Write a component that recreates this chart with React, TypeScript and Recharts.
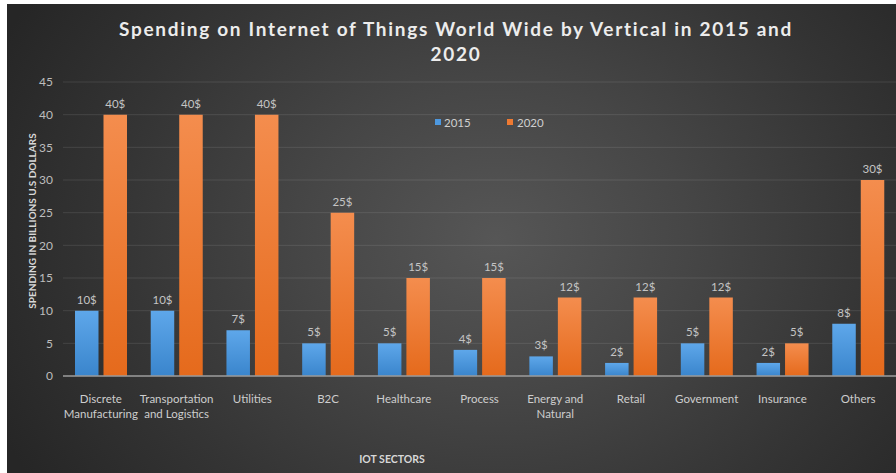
import React from "react";
import { BarChart, Bar, XAxis, YAxis, CartesianGrid, LabelList } from "recharts";

const categories = [
  "Discrete\nManufacturing",
  "Transportation\nand Logistics",
  "Utilities",
  "B2C",
  "Healthcare",
  "Process",
  "Energy and\nNatural",
  "Retail",
  "Government",
  "Insurance",
  "Others",
];
const values2015 = [10, 10, 7, 5, 5, 4, 3, 2, 5, 2, 8];
const values2020 = [40, 40, 40, 25, 15, 15, 12, 12, 12, 5, 30];
const yTicks = [0, 5, 10, 15, 20, 25, 30, 35, 40, 45];

const data = categories.map((c, i) => ({ name: c, y2015: values2015[i], y2020: values2020[i] }));

const FONT = "Lato, 'Open Sans', sans-serif";

const CatTick = (props: any) => {
  const { x, y, payload } = props;
  const lines = String(payload.value).split("\n");
  return (
    <g transform={`translate(${x},${y})`}>
      {lines.map((l: string, i: number) => (
        <text key={i} x={0} y={19 + i * 15} textAnchor="middle" fill="#cdcdcd" fontSize={11.5} fontFamily={FONT}>
          {l}
        </text>
      ))}
    </g>
  );
};

export default function App() {
  return (
    <>
      <style>{`html,body{margin:0;padding:0;overflow:hidden;background:#fff}`}</style>
      <div style={{ position: "fixed", left: 0, top: 0, width: 896, height: 473, background: "#fff", overflow: "hidden" }}>
        <div
          style={{
            position: "absolute",
            left: 7,
            top: 4,
            width: 889,
            height: 469,
            overflow: "hidden",
            background: "radial-gradient(ellipse 62% 95% at 55% 50%, #565656 0%, #464646 35%, #343434 70%, #262626 100%)",
          }}
        >
          <BarChart width={889} height={469} data={data} margin={{ top: 78, right: 0, left: 0, bottom: 0 }} barSize={23.5} barGap={5}>
            <defs>
              <linearGradient id="gBlue" x1="0" y1="0" x2="0" y2="1">
                <stop offset="0%" stopColor="#5ea7ea" />
                <stop offset="100%" stopColor="#3a85cc" />
              </linearGradient>
              <linearGradient id="gOrange" x1="0" y1="0" x2="0" y2="1">
                <stop offset="0%" stopColor="#f48d4e" />
                <stop offset="100%" stopColor="#e56a1c" />
              </linearGradient>
            </defs>
            <CartesianGrid vertical={false} stroke="rgba(255,255,255,0.1)" strokeWidth={1} />
            <XAxis
              dataKey="name"
              height={97}
              tickLine={false}
              axisLine={{ stroke: "#9a9a9a", strokeWidth: 1.5 }}
              tick={<CatTick />}
              interval={0}
            />
            <YAxis
              width={56}
              domain={[0, 45]}
              ticks={yTicks}
              tickLine={false}
              axisLine={false}
              tickSize={0}
              tickMargin={10}
              tick={{ fill: "#bdbdbd", fontSize: 12, fontFamily: FONT }}
            />
            <Bar dataKey="y2015" fill="url(#gBlue)" isAnimationActive={false}>
              <LabelList dataKey="y2015" position="top" offset={7} formatter={(v: any) => `${v}$`} fill="#c4c4c4" fontSize={11.5} fontFamily={FONT} />
            </Bar>
            <Bar dataKey="y2020" fill="url(#gOrange)" isAnimationActive={false}>
              <LabelList dataKey="y2020" position="top" offset={7} formatter={(v: any) => `${v}$`} fill="#c4c4c4" fontSize={11.5} fontFamily={FONT} />
            </Bar>
            <text x={449} y={32} textAnchor="middle" fill="#ececec" fontSize={19} fontWeight={700} letterSpacing={1.7} fontFamily={FONT}>
              Spending on Internet of Things World Wide by Vertical in 2015 and
            </text>
            <text x={449} y={57} textAnchor="middle" fill="#ececec" fontSize={19} fontWeight={700} letterSpacing={1.7} fontFamily={FONT}>
              2020
            </text>
            <text
              x={24.7}
              y={217}
              transform="rotate(-90, 24.7, 217)"
              textAnchor="middle"
              dominantBaseline="central"
              fill="#d8d8d8"
              fontSize={10}
              fontWeight={700}
              fontFamily={FONT}
            >
              SPENDING IN BILLIONS U.S DOLLARS
            </text>
            <text x={385} y={455} textAnchor="middle" dominantBaseline="central" fill="#d8d8d8" fontSize={10.5} fontWeight={700} fontFamily={FONT}>
              IOT SECTORS
            </text>
            <rect x={428} y={115} width={6} height={6} fill="#4d98df" />
            <text x={437} y={118} dominantBaseline="central" fill="#cfcfcf" fontSize={11.5} fontFamily={FONT}>
              2015
            </text>
            <rect x={500} y={115} width={6} height={6} fill="#ef7a32" />
            <text x={510} y={118} dominantBaseline="central" fill="#cfcfcf" fontSize={11.5} fontFamily={FONT}>
              2020
            </text>
          </BarChart>
        </div>
      </div>
    </>
  );
}
